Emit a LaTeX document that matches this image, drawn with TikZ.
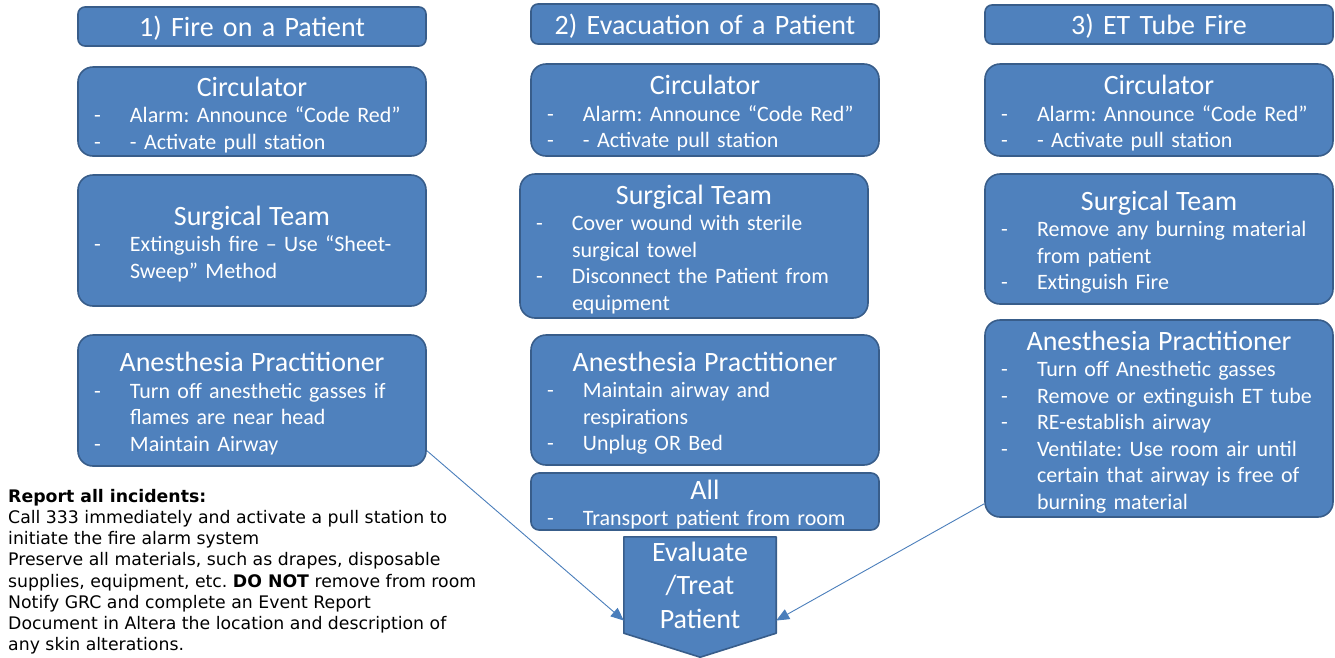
\documentclass[tikz,border=0pt]{standalone}
\usepackage{fontspec}
\setmainfont{Carlito}
\newfontfamily\notefont{DejaVu Sans}
\usetikzlibrary{arrows.meta, positioning, backgrounds}
\frenchspacing

\definecolor{boxfill}{HTML}{4F81BD}
\definecolor{boxline}{HTML}{385D8A}
\definecolor{arrline}{HTML}{4A7EBB}

% header line and dash lines inside the cards
\newcommand{\hd}[1]{\makebox[\linewidth][c]{\rule{0pt}{26pt}\fontsize{28}{30}\selectfont #1}}
\newcommand{\dl}[1]{\makebox[\linewidth][l]{\hspace{16pt}\makebox[36pt][l]{-}#1}}
\newcommand{\cl}[1]{\makebox[\linewidth][l]{\hspace{52pt}#1}}
\newcommand{\ttl}[1]{\rule{0pt}{24pt}#1}

\tikzset{
  card/.style={draw=boxline, line width=1.6pt, fill=boxfill, text=white,
    rounded corners=15pt, inner xsep=0pt, inner ysep=0pt, text width=348pt,
    align=left, minimum height=#1, font=\fontsize{22}{26.5}\selectfont},
  titlebox/.style={card=#1, rounded corners=7pt, align=center,
    font=\fontsize{28}{30}\selectfont},
  allbox/.style={card=#1, rounded corners=8pt},
  evalbox/.style={text=white, inner sep=0pt, minimum width=152pt,
    minimum height=96pt, align=center, font=\fontsize{28}{33.5}\selectfont},
  note/.style={align=left, inner sep=0pt,
    font=\notefont\fontsize{17.3}{21.2}\selectfont},
  flow/.style={->, draw=arrline, line width=0.9pt}
}

\begin{document}
\begin{tikzpicture}[x=1pt, y=-1pt, >={Triangle[length=13pt,width=11pt]}]
\useasboundingbox (0,0) rectangle (1335,657);

% column 1
\node[titlebox=39pt] (t1) at (252,26.5) {\ttl{1) Fire on a Patient}};
\node[card=89pt] (c1) at (252,111.5) {\hd{Circulator}\\
  \dl{Alarm: Announce “Code Red”}\\ \dl{- Activate pull station}};
\node[card=131pt] (s1) at (252,240.5) {\hd{Surgical Team}\\
  \dl{Extinguish fire – Use “Sheet-}\\ \cl{Sweep” Method}};
\node[card=131pt] (a1) at (252,400.5) {\hd{Anesthesia Practitioner}\\
  \dl{Turn off anesthetic gasses if}\\ \cl{flames are near head}\\
  \dl{Maintain Airway}};

% column 2
\node[titlebox=40pt] (t2) at (705,24) {\ttl{2) Evacuation of a Patient}};
\node[card=92pt] (c2) at (705,110) {\hd{Circulator}\\
  \dl{Alarm: Announce “Code Red”}\\ \dl{- Activate pull station}};
\node[card=144pt] (s2) at (694,246) {\hd{Surgical Team}\\
  \dl{Cover wound with sterile}\\ \cl{surgical towel}\\
  \dl{Disconnect the Patient from}\\ \cl{equipment}};
\node[card=130pt] (a2) at (705,400) {\hd{Anesthesia Practitioner}\\
  \dl{Maintain airway and}\\ \cl{respirations}\\ \dl{Unplug OR Bed}};
\node[allbox=57pt] (all) at (705,501.5) {\hd{All}\\
  \dl{Transport patient from room}};

% evaluate block, drawn as a pointing pentagon
\node[evalbox] (ev) at (700,585) {Evaluate\\/Treat\\Patient};
\begin{scope}[on background layer]
  \draw[draw=boxline, line width=1.6pt, fill=boxfill, line join=round]
    (ev.north west) -- (ev.north east) -- (ev.south east)
    -- ++(-76,24) -- (ev.south west) -- cycle;
\end{scope}

% column 3
\node[titlebox=39pt] (t3) at (1159,24.5) {\ttl{3) ET Tube Fire}};
\node[card=92pt] (c3) at (1159,110) {\hd{Circulator}\\
  \dl{Alarm: Announce “Code Red”}\\ \dl{- Activate pull station}};
\node[card=130pt] (s3) at (1159,239) {\hd{Surgical Team}\\
  \dl{Remove any burning material}\\ \cl{from patient}\\
  \dl{Extinguish Fire}};
\node[card=197pt] (a3) at (1159,418.5) {\hd{Anesthesia Practitioner}\\
  \dl{Turn off Anesthetic gasses}\\ \dl{Remove or extinguish ET tube}\\
  \dl{RE-establish airway}\\ \dl{Ventilate: Use room air until}\\
  \cl{certain that airway is free of}\\ \cl{burning material}};

% report note
\node[note, anchor=north west] (report) at (8,489) {\textbf{Report all incidents:}\\
  Call 333 immediately and activate a pull station to\\
  initiate the fire alarm system\\
  Preserve all materials, such as drapes, disposable\\
  supplies, equipment, etc. \textbf{DO NOT} remove from room\\
  Notify GRC and complete an Event Report\\
  Document in Altera the location and description of\\
  any skin alterations.};

\draw[flow] (a1.-16) -- (ev.205);
\draw[flow] (a3.206) -- (ev.-25);
\end{tikzpicture}
\end{document}
